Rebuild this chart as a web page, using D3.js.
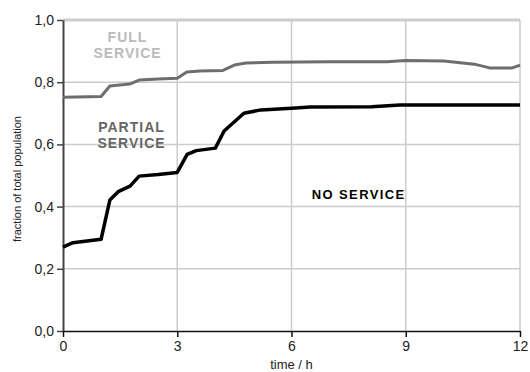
<!DOCTYPE html>
<html>
<head>
<meta charset="utf-8">
<script src="https://cdn.jsdelivr.net/npm/d3@7"></script>
<style>
  body { margin: 0; background: #fff; }
  svg { display: block; font-family: "Liberation Sans", Arial, sans-serif; }
</style>
</head>
<body>
<svg id="chart" width="530" height="372"></svg>
<script>
// Boundary between full and partial service (time in h, fraction)
const fullTime  = [0, 1.0, 1.23, 1.75, 2.0, 2.5, 3.0, 3.25, 3.6, 4.2, 4.5, 4.8, 5.5, 7.0, 8.5, 9.0, 10.0, 10.8, 11.2, 11.8, 12];
const fullValue = [0.752, 0.754, 0.788, 0.794, 0.807, 0.810, 0.813, 0.833, 0.836, 0.838, 0.855, 0.862, 0.864, 0.866, 0.866, 0.870, 0.868, 0.858, 0.846, 0.846, 0.855];

// Boundary between partial and no service
const noneTime  = [0, 0.26, 1.0, 1.23, 1.45, 1.76, 2.0, 2.5, 3.0, 3.26, 3.5, 4.0, 4.23, 4.75, 5.2, 6.0, 6.5, 8.1, 8.85, 12];
const noneValue = [0.270, 0.284, 0.295, 0.421, 0.448, 0.466, 0.498, 0.503, 0.510, 0.568, 0.580, 0.588, 0.643, 0.700, 0.711, 0.716, 0.720, 0.721, 0.727, 0.727];

const xTicks = [0, 3, 6, 9, 12];
const yTicks = [0, 0.2, 0.4, 0.6, 0.8, 1.0];

const svg = d3.select("#chart");
const m = { left: 63, right: 10, top: 20, bottom: 41 };
const W = 530, H = 372;

const x = d3.scaleLinear().domain([0, 12]).range([m.left, W - m.right]);
const y = d3.scaleLinear().domain([0, 1]).range([H - m.bottom, m.top]);

// grid
const grid = svg.append("g");
grid.selectAll("line.gx").data(xTicks.slice(1)).join("line")
  .attr("x1", d => x(d)).attr("x2", d => x(d))
  .attr("y1", y(0)).attr("y2", y(1))
  .attr("stroke", "#cccccc").attr("stroke-width", 1.5);
grid.selectAll("line.gy").data(yTicks.slice(1)).join("line")
  .attr("x1", x(0)).attr("x2", x(12))
  .attr("y1", d => y(d)).attr("y2", d => y(d))
  .attr("stroke", "#cccccc")
  .attr("stroke-width", d => d === 1 ? 3 : 1.5);

const fmt = d => d3.format(".1f")(d).replace(".", ",");

// y axis
const ya = svg.append("g").attr("transform", `translate(${x(0)},0)`)
  .call(d3.axisLeft(y).tickValues(yTicks).tickFormat(fmt).tickSize(6).tickSizeOuter(0));
ya.select(".domain").attr("stroke", "#444").attr("stroke-width", 2);
ya.selectAll(".tick line").attr("stroke", "#444").attr("stroke-width", 1.5);
ya.selectAll(".tick text").attr("font-size", 14).attr("fill", "#222").attr("x", -9)
  .attr("font-family", "Liberation Sans, Arial, sans-serif");

// x axis
const xa = svg.append("g").attr("transform", `translate(0,${y(0)})`)
  .call(d3.axisBottom(x).tickValues(xTicks).tickFormat(d3.format("d")).tickSize(6).tickSizeOuter(0));
xa.select(".domain").attr("stroke", "#111").attr("stroke-width", 1.5);
xa.selectAll(".tick line").attr("stroke", "#111").attr("stroke-width", 1.5);
xa.selectAll(".tick text").attr("font-size", 14).attr("fill", "#222").attr("y", 10)
  .attr("font-family", "Liberation Sans, Arial, sans-serif");

// axis titles
svg.append("text").attr("x", x(6)).attr("y", 369).attr("text-anchor", "middle")
  .attr("font-size", 13).attr("fill", "#222").text("time / h");
svg.append("text").attr("transform", `translate(21,179) rotate(-90)`)
  .attr("text-anchor", "middle").attr("font-size", 11).attr("fill", "#222")
  .text("fraction of total population");

// lines
const line = d3.line().x(d => x(d[0])).y(d => y(d[1]));
svg.append("path").datum(d3.zip(fullTime, fullValue))
  .attr("d", line).attr("fill", "none").attr("stroke", "#6e6e6e")
  .attr("stroke-width", 3).attr("stroke-linejoin", "round");
svg.append("path").datum(d3.zip(noneTime, noneValue))
  .attr("d", line).attr("fill", "none").attr("stroke", "#000")
  .attr("stroke-width", 3.5).attr("stroke-linejoin", "round");

// region labels
function label(lines, cx, cy, color, size, spacing) {
  const t = svg.append("text").attr("text-anchor", "middle").attr("font-weight", "bold")
    .attr("font-size", size).attr("fill", color).attr("letter-spacing", spacing);
  lines.forEach((s, i) => t.append("tspan").attr("x", cx + spacing / 2).attr("y", cy + i * 15.5).text(s));
}
label(["FULL", "SERVICE"], 127, 42, "#bbbbbb", 14, 1);
label(["PARTIAL", "SERVICE"], 131, 132, "#666666", 14, 1);
label(["NO SERVICE"], 358, 199, "#000000", 13, 1.4);
</script>
</body>
</html>
